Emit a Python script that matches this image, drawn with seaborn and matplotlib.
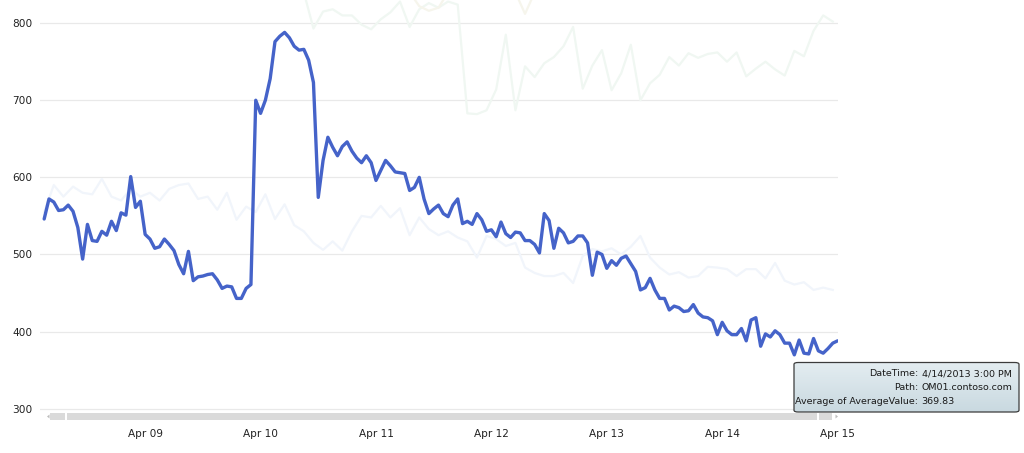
import matplotlib
matplotlib.use("Agg")
import matplotlib.dates as mdates
import matplotlib.pyplot as plt
import numpy as np
import pandas as pd
import seaborn as sns
from matplotlib.patches import FancyBboxPatch, Rectangle, Polygon

# hourly averages for OM01.contoso.com, starting 4/8/2013 3:00 AM
om01_start = "2013-04-08 03:00"
om01_values = [
    546, 572, 568, 557, 558, 564, 556, 535, 494, 539,
    518, 517, 530, 525, 543, 531, 554, 551, 601, 561,
    569, 526, 520, 508, 510, 520, 513, 505, 487, 475,
    504, 466, 471, 472, 474, 475, 467, 456, 459, 458,
    443, 443, 456, 461,
    700, 683, 700, 728, 776, 783, 788, 781, 770, 765,
    766, 752, 723, 574, 622, 652, 639, 628, 640, 646,
    634, 625, 619, 628, 619, 596, 609, 622, 615, 607,
    606, 605, 583, 587,
    600, 572, 553, 559, 564, 553, 549, 564, 572, 540,
    543, 539, 553, 545, 530, 532, 523, 542, 527, 522,
    529, 528, 518, 518, 513, 502, 553, 544, 508, 534,
    528, 515, 517, 524, 524, 515, 473, 503, 500, 482,
    492, 486, 495, 498, 488, 478, 454, 457, 469, 454,
    443, 443, 428, 433, 431, 426, 427, 435, 424, 419,
    418, 414, 396, 412, 401, 396, 396, 404, 388, 415,
    418, 381, 397, 393, 401, 396, 385, 385, 369.83, 389,
    372, 371, 391, 375, 372, 378, 385, 388,
]

# the other (dimmed) paths, read every two hours
other_blue_start = "2013-04-08 03:00"
other_blue_values = [
    555, 590, 575, 588, 580, 578, 598, 575, 570, 585,
    575, 580, 570, 585, 590, 592, 572, 575, 558, 580,
    545, 562, 555, 578, 546, 565, 538, 530, 515, 506,
    517, 505, 530, 550, 548, 563, 548, 560, 525,
    548, 533, 525, 530, 522, 517, 496, 524, 520, 511,
    515, 483, 476, 472, 472, 476, 463, 498, 507, 504,
    508, 500, 510, 524, 496, 483, 474, 477, 470, 472,
    484, 483, 481, 472, 481, 481, 469, 489, 466, 461,
    464, 454, 457, 454,
]
other_green_start = "2013-04-10 09:00"
other_green_values = [
    840, 793, 815, 818, 810, 810, 798, 792, 805, 814, 828,
    795, 818, 826, 820, 828, 824, 683, 682, 687, 714,
    785, 687, 744, 730, 748, 756, 770, 795, 715, 745,
    765, 713, 735, 772, 700, 722, 733, 756, 745, 761,
    755, 760, 762, 750, 762, 731, 741, 750, 740, 732,
    764, 757, 790, 810, 802,
]
other_yellow_a_start = "2013-04-11 07:00"
other_yellow_a_values = [840, 822, 816, 820, 840]
other_yellow_b_start = "2013-04-12 05:00"
other_yellow_b_values = [840, 812, 840]

y_ticks = [300, 400, 500, 600, 700, 800]
x_tick_days = pd.date_range("2013-04-09", "2013-04-15", freq="D")

tooltip_rows = [
    ("DateTime:", "4/14/2013 3:00 PM"),
    ("Path:", "OM01.contoso.com"),
    ("Average of AverageValue:", "369.83"),
]


def series(start, values, freq):
    return pd.DataFrame({
        "time": pd.date_range(start, periods=len(values), freq=freq),
        "value": values,
    })


W, H = 1024, 453
fig = plt.figure(figsize=(W / 100, H / 100), dpi=100)
fig.patch.set_facecolor("white")
ax = fig.add_axes([40 / W, 1 - 411 / H, 798 / W, 411 / H])

faint_lw = 1.6
sns.lineplot(data=series(other_blue_start, other_blue_values, "2h"), x="time", y="value",
             color="#f1f5fb", lw=faint_lw, ax=ax, zorder=2)
sns.lineplot(data=series(other_green_start, other_green_values, "2h"), x="time", y="value",
             color="#f0f7f2", lw=faint_lw, ax=ax, zorder=2)
sns.lineplot(data=series(other_yellow_a_start, other_yellow_a_values, "2h"), x="time", y="value",
             color="#f6f5ec", lw=faint_lw, ax=ax, zorder=2)
sns.lineplot(data=series(other_yellow_b_start, other_yellow_b_values, "2h"), x="time", y="value",
             color="#f6f5ec", lw=faint_lw, ax=ax, zorder=2)
sns.lineplot(data=series(om01_start, om01_values, "h"), x="time", y="value",
             color="#4563c9", lw=2.4, ax=ax, zorder=3,
             solid_joinstyle="round", solid_capstyle="round")

ax.set_xlim(pd.Timestamp("2013-04-08 02:08"), pd.Timestamp("2013-04-15 00:05"))
ax.set_ylim(297, 830)
ax.set_yticks(y_ticks)
ax.set_xticks(x_tick_days)
ax.xaxis.set_major_formatter(mdates.DateFormatter("%b %d"))
ax.set_xlabel("")
ax.set_ylabel("")
for s in ax.spines.values():
    s.set_visible(False)
ax.grid(axis="y", color="#e9e9e9", lw=0.9, zorder=0)
ax.grid(axis="x", visible=False)
ax.set_axisbelow(True)
ax.tick_params(axis="both", length=0, labelsize=7.6, labelcolor="#222222")
ax.tick_params(axis="y", pad=5.5)
ax.tick_params(axis="x", pad=13)
ax.set_facecolor("none")


def px(x0, y0, w, h):
    # pixel box (top-left origin) -> figure fraction rectangle
    return (x0 / W, 1 - (y0 + h) / H), w / W, h / H


# scroll bar under the plot
bar_color = "#dadada"
for x0, w in [(50, 15), (67, 750), (819, 13)]:
    xy, ww, hh = px(x0, 413, w, 7)
    fig.patches.append(Rectangle(xy, ww, hh, transform=fig.transFigure,
                                 facecolor=bar_color, edgecolor="none"))
fig.patches.append(Polygon([(47 / W, 1 - 416.5 / H), (49.5 / W, 1 - 414.5 / H), (49.5 / W, 1 - 418.5 / H)],
                           closed=True, transform=fig.transFigure, facecolor="#bdbdbd", edgecolor="none"))
fig.patches.append(Polygon([(838 / W, 1 - 416.5 / H), (835.5 / W, 1 - 414.5 / H), (835.5 / W, 1 - 418.5 / H)],
                           closed=True, transform=fig.transFigure, facecolor="#bdbdbd", edgecolor="none"))

# tooltip
tx, ty, tw, th = 794, 362.5, 225, 49.5
(bx, by), bw, bh = px(tx, ty, tw, th)
tip_ax = fig.add_axes([bx, by, bw, bh])
grad = np.linspace(0, 1, 64).reshape(-1, 1)
tip_ax.imshow(grad, aspect="auto", cmap=matplotlib.colors.LinearSegmentedColormap.from_list(
    "tip", ["#e4edf1", "#c9d9e0"]), extent=(0, 1, 0, 1), origin="upper")
tip_ax.set_axis_off()
fig.patches.append(FancyBboxPatch((bx, by), bw, bh, boxstyle="round,pad=0,rounding_size=0.004",
                                  transform=fig.transFigure, facecolor="none",
                                  edgecolor="#3c3c3c", lw=0.9, zorder=10))
for i, (label, value) in enumerate(tooltip_rows):
    yy = 1 - (374 + i * 14) / H
    fig.text(918 / W, yy, label, ha="right", va="center", fontsize=6.8,
             color="#1a1a1a", family="DejaVu Sans", zorder=11)
    fig.text(921.5 / W, yy, value, ha="left", va="center", fontsize=6.8,
             color="#1a1a1a", family="DejaVu Sans", zorder=11)

fig.savefig("out.png", dpi=100, facecolor="white")
